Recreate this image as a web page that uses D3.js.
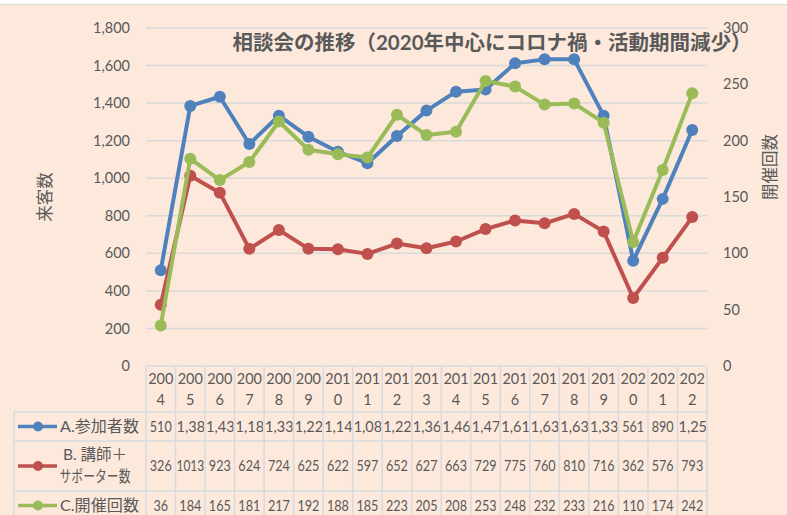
<!DOCTYPE html>
<html>
<head>
<meta charset="utf-8">
<script src="https://cdn.jsdelivr.net/npm/d3@7"></script>
<style>
  html, body { margin: 0; padding: 0; background: #fff; }
  svg { display: block; }
  text { font-family: Lato, "Noto Sans CJK JP", sans-serif; fill: #595959; }
</style>
</head>
<body>
<div id="chart"></div>
<script>
// chart data
const years = ["2004","2005","2006","2007","2008","2009","2010","2011","2012","2013",
               "2014","2015","2016","2017","2018","2019","2020","2021","2022"];
const visitors = [510,1385,1434,1182,1333,1221,1141,1080,1225,1360,1461,1472,1612,1633,1633,1333,561,890,1257];
const staff = [326,1013,923,624,724,625,622,597,652,627,663,729,775,760,810,716,362,576,793];
const sessions = [36,184,165,181,217,192,188,185,223,205,208,253,248,232,233,216,110,174,242];
const leftTicks = [0,200,400,600,800,1000,1200,1400,1600,1800];
const rightTicks = [0,50,100,150,200,250,300];

const W = 787, H = 515;
const plot = { left: 146, right: 707, top: 28, bottom: 366 };
const bg = "#FCE9DC";
const grid = "#D9D9D9";
const cellLine = "#D6DAE0";

const series = [
    { name: "A.参加者数", values: visitors, color: "#4F81BD", axis: "left", fmt: d3.format(",") },
    { name: "B. 講師＋|サポーター数", values: staff, color: "#C0504D", axis: "left", fmt: d => String(d) },
    { name: "C.開催回数", values: sessions, color: "#9BBB59", axis: "right", fmt: d => String(d) }
];

const svg = d3.select("#chart").append("svg")
    .attr("width", W)
    .attr("height", H);

svg.append("rect").attr("width", W).attr("height", H).attr("fill", "#fff");
svg.append("rect").attr("x", 0).attr("y", 4).attr("width", W).attr("height", H - 4).attr("fill", bg);
svg.append("line").attr("x1", 0).attr("x2", W).attr("y1", 4.5).attr("y2", 4.5)
    .attr("stroke", "#DADADA").attr("stroke-width", 1);

const x = d3.scaleBand().domain(years).range([plot.left, plot.right]);
const yL = d3.scaleLinear().domain([0, 1800]).range([plot.bottom, plot.top]);
const yR = d3.scaleLinear().domain([0, 300]).range([plot.bottom, plot.top]);
const cx = d => x(d) + x.bandwidth() / 2;

// gridlines
svg.append("g").selectAll("line")
    .data(leftTicks.filter(d => d > 0))
    .join("line")
    .attr("x1", plot.left).attr("x2", plot.right)
    .attr("y1", d => yL(d)).attr("y2", d => yL(d))
    .attr("stroke", grid).attr("stroke-width", 1.5);

// axes
const axL = svg.append("g")
    .attr("transform", `translate(${plot.left},0)`)
    .call(d3.axisLeft(yL).tickValues(leftTicks).tickFormat(d3.format(",")).tickSize(0).tickPadding(16));
const axR = svg.append("g")
    .attr("transform", `translate(${plot.right},0)`)
    .call(d3.axisRight(yR).tickValues(rightTicks).tickSize(0).tickPadding(16));
[axL, axR].forEach(a => {
    a.select(".domain").remove();
    a.selectAll("text").attr("font-size", 14.5).attr("fill", "#595959")
        .attr("font-family", "Lato, 'Noto Sans CJK JP', sans-serif");
});

// axis titles
svg.append("text")
    .attr("transform", "translate(51,197) rotate(-90)")
    .attr("text-anchor", "middle")
    .attr("font-size", 16.5)
    .text("来客数");
svg.append("text")
    .attr("transform", "translate(776,167) rotate(-90)")
    .attr("text-anchor", "middle")
    .attr("font-size", 16.5)
    .text("開催回数");

// title
svg.append("text")
    .attr("x", 492).attr("y", 50)
    .attr("text-anchor", "middle")
    .attr("font-size", 20.5)
    .attr("font-weight", "bold")
    .attr("fill", "#595959")
    .text("相談会の推移（2020年中心にコロナ禍・活動期間減少）");

// lines + markers
series.forEach(s => {
    const yS = s.axis === "left" ? yL : yR;
    const line = d3.line().x((d, i) => cx(years[i])).y(d => yS(d));
    const g = svg.append("g");
    g.append("path")
        .datum(s.values)
        .attr("fill", "none")
        .attr("stroke", s.color)
        .attr("stroke-width", 4)
        .attr("stroke-linejoin", "round")
        .attr("d", line);
    g.selectAll("circle")
        .data(s.values)
        .join("circle")
        .attr("cx", (d, i) => cx(years[i]))
        .attr("cy", d => yS(d))
        .attr("r", 6)
        .attr("fill", s.color);
});

// data table
const rowsY = [plot.bottom, 412, 441, 491, 520];
const legL = 14;
const tbl = svg.append("g");
const defs = svg.append("defs");
years.forEach((yr, i) => {
    defs.append("clipPath").attr("id", "col" + i)
        .append("rect")
        .attr("x", x(yr) + 1).attr("y", plot.bottom)
        .attr("width", x.bandwidth() - 2).attr("height", H - plot.bottom);
});

// horizontal borders
tbl.append("line").attr("x1", plot.left).attr("x2", plot.right)
    .attr("y1", rowsY[0]).attr("y2", rowsY[0]);
rowsY.slice(1, 4).forEach(yy => {
    tbl.append("line").attr("x1", legL).attr("x2", plot.right).attr("y1", yy).attr("y2", yy);
});
// vertical borders
tbl.append("line").attr("x1", legL).attr("x2", legL).attr("y1", rowsY[1]).attr("y2", H);
years.forEach(yr => {
    tbl.append("line").attr("x1", x(yr)).attr("x2", x(yr)).attr("y1", rowsY[0]).attr("y2", H);
});
tbl.append("line").attr("x1", plot.right).attr("x2", plot.right).attr("y1", rowsY[0]).attr("y2", H);
tbl.selectAll("line").attr("stroke", cellLine).attr("stroke-width", 1.5);

// year header (wrapped in two lines)
years.forEach((yr, i) => {
    const t = tbl.append("text")
        .attr("text-anchor", "middle")
        .attr("font-size", 14.5)
        .attr("clip-path", `url(#col${i})`);
    t.append("tspan").attr("x", cx(yr)).attr("y", 384).text(yr.slice(0, 3));
    t.append("tspan").attr("x", cx(yr)).attr("y", 405).text(yr.slice(3));
});

// value rows
const squeezeK = 0.87;   // source font is narrower than Lato
const fitW = x.bandwidth() - 2;
series.forEach((s, si) => {
    const top = rowsY[si + 1], bot = rowsY[si + 2];
    const mid = (top + bot) / 2;
    s.values.forEach((v, i) => {
        const yr = years[i];
        const t = tbl.append("text")
            .attr("x", cx(yr))
            .attr("y", mid)
            .attr("dy", "0.36em")
            .attr("text-anchor", "middle")
            .attr("font-size", 14.5)
            .attr("clip-path", `url(#col${i})`)
            .text(s.fmt(v));
        const w = t.node().getComputedTextLength();
        if (w * 0.8 <= fitW) {
            t.attr("textLength", Math.min(w * squeezeK, fitW)).attr("lengthAdjust", "spacingAndGlyphs");
        } else {
            // too wide: left aligned and cut at the cell edge
            t.attr("x", x(yr) + 1).attr("text-anchor", "start");
        }
    });

    // legend key
    tbl.append("line")
        .attr("x1", 18).attr("x2", 57)
        .attr("y1", mid).attr("y2", mid)
        .attr("stroke", s.color).attr("stroke-width", 3.5);
    tbl.append("circle")
        .attr("cx", 38).attr("cy", mid).attr("r", 5)
        .attr("fill", s.color);

    const parts = s.name.split("|");
    if (parts.length === 1) {
        const t = tbl.append("text")
            .attr("x", 60).attr("y", mid).attr("dy", "0.36em")
            .attr("font-size", 15.5)
            .text(parts[0]);
        t.attr("textLength", 79).attr("lengthAdjust", "spacingAndGlyphs");
    } else {
        parts.forEach((p, k) => {
            const t = tbl.append("text")
                .attr("x", 95).attr("y", mid - 12 + k * 22).attr("dy", "0.36em")
                .attr("text-anchor", "middle")
                .attr("font-size", 15.5)
                .text(p);
            if (k === 1) t.attr("textLength", 71).attr("lengthAdjust", "spacingAndGlyphs");
        });
    }
});
</script>
</body>
</html>
